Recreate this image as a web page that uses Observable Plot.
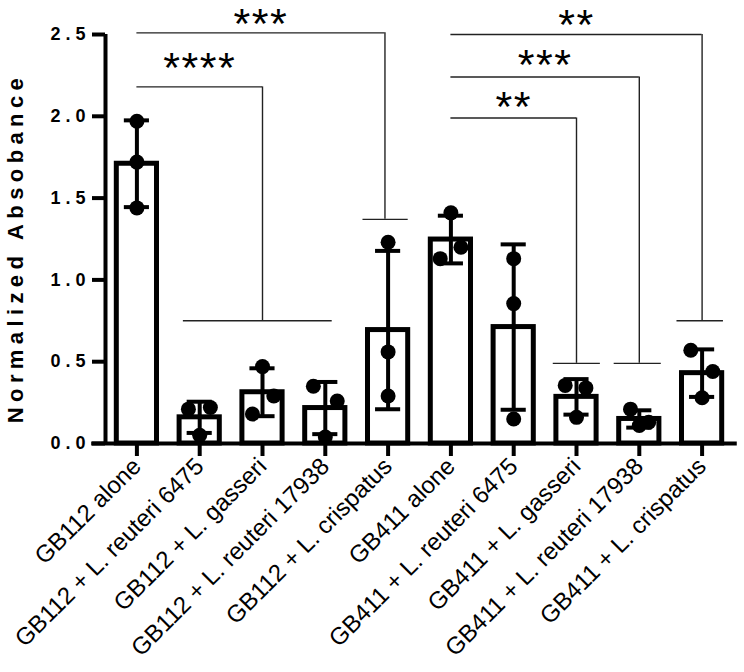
<!DOCTYPE html>
<html>
<head>
<meta charset="utf-8">
<script src="https://cdn.jsdelivr.net/npm/d3@7"></script>
<script src="https://cdn.jsdelivr.net/npm/@observablehq/plot@0.6"></script>
<style>
  body { margin: 0; background: #fff; }
  #chart svg { font-family: "Liberation Sans", Arial, sans-serif; }
</style>
</head>
<body>
<div id="chart"></div>
<script>
// ---- data ----
const categories = [
  "GB112 alone",
  "GB112 + L. reuteri 6475",
  "GB112 + L. gasseri",
  "GB112 + L. reuteri 17938",
  "GB112 + L. crispatus",
  "GB411 alone",
  "GB411 + L. reuteri 6475",
  "GB411 + L. gasseri",
  "GB411 + L. reuteri 17938",
  "GB411 + L. crispatus"
];
// three replicate values per condition
const replicates = [
  [1.97, 1.72, 1.44],
  [0.21, 0.22, 0.05],
  [0.47, 0.29, 0.18],
  [0.35, 0.26, 0.04],
  [1.23, 0.56, 0.29],
  [1.41, 1.20, 1.13],
  [1.13, 0.855, 0.15],
  [0.355, 0.34, 0.16],
  [0.21, 0.13, 0.11],
  [0.57, 0.44, 0.28]
];
// horizontal scatter of each replicate dot (in category units)
const jitter = [
  [0, 0, 0],
  [-0.18, 0.17, 0],
  [0, 0.18, -0.16],
  [-0.19, 0.19, 0],
  [0, 0, 0],
  [0, 0.16, -0.17],
  [0, 0, 0],
  [-0.18, 0.15, 0],
  [-0.14, 0.15, 0],
  [-0.18, 0.17, 0]
];
const yTicks = [0, 0.5, 1.0, 1.5, 2.0, 2.5];
const yTitle = "Normalized Absobance";
// significance brackets
const sigLabels = ["****", "***", "**", "***", "**"];
const sigFrom = [0, 0, 5, 5, 5];
const sigTo = [2, 3.95, 9, 8, 7];
const sigTop = [2.18, 2.51, 2.50, 2.24, 1.99];
const sigBottom = [0.75, 1.37, 0.75, 0.49, 0.49];
const sigCapFrom = [0.74, 3.6, 8.6, 7.6, 6.63];
const sigCapTo = [3.11, 4.32, 9.34, 8.35, 7.38];
const sigTextY = [2.33, 2.60, 2.595, 2.35, 2.09];

// ---- derived tables ----
const stats = replicates.map((r, i) => ({i, mean: d3.mean(r), sd: d3.deviation(r)}));
const points = replicates.flatMap((r, i) => r.map((v, j) => ({i, v, off: jitter[i][j]})));
const caps = stats.flatMap(s => [{i: s.i, y: s.mean + s.sd}, {i: s.i, y: s.mean - s.sd}]);
const brackets = sigLabels.map((label, k) => ({
  label, from: sigFrom[k], to: sigTo[k], top: sigTop[k], bottom: sigBottom[k],
  capFrom: sigCapFrom[k], capTo: sigCapTo[k], ty: sigTextY[k]
}));

const font = "Liberation Sans, Arial, sans-serif";
const chart = Plot.plot({
  width: 744,
  height: 672,
  marginLeft: 105,
  marginRight: 11,
  marginTop: 34,
  marginBottom: 229,
  style: {fontFamily: font, background: "white", overflow: "visible"},
  x: {type: "linear", domain: [-0.5, 9.5], axis: null},
  y: {domain: [0, 2.5], axis: null},
  marks: [
    // bracket lines
    Plot.ruleY(brackets, {y: "top", x1: "from", x2: "to", stroke: "#222", strokeWidth: 1.4}),
    Plot.ruleX(brackets, {x: "to", y1: "top", y2: "bottom", stroke: "#222", strokeWidth: 1.4}),
    Plot.ruleY(brackets, {y: "bottom", x1: "capFrom", x2: "capTo", stroke: "#222", strokeWidth: 1.4}),
    Plot.text(brackets, {x: d => (d.from + d.to) / 2, y: "ty", text: "label", fontSize: 43, dy: 6, fill: "black", fontFamily: font}),
    // bars
    Plot.rectY(stats, {x1: d => d.i - 0.32, x2: d => d.i + 0.32, y1: 0, y2: "mean", fill: "white", stroke: "black", strokeWidth: 5}),
    // error bars
    Plot.ruleX(stats, {x: "i", y1: d => d.mean - d.sd, y2: d => d.mean + d.sd, stroke: "black", strokeWidth: 4}),
    Plot.ruleY(caps, {y: "y", x1: d => d.i - 0.2, x2: d => d.i + 0.2, stroke: "black", strokeWidth: 4}),
    // replicate dots
    Plot.dot(points, {x: d => d.i + d.off, y: "v", r: 7.5, fill: "black", stroke: null}),
    // axes
    Plot.ruleY([0], {x1: -0.72, x2: 9.56, stroke: "black", strokeWidth: 4}),
    Plot.ruleX([-0.5], {y1: 0, y2: 2.5, stroke: "black", strokeWidth: 4}),
    Plot.axisY(yTicks, {tickSize: 13, tickPadding: 2, strokeWidth: 4, tickFormat: d => d.toFixed(1), fill: "black", label: null}),
    Plot.axisX(d3.range(categories.length), {tickSize: 13, strokeWidth: 4, tickRotate: -45, tickFormat: i => categories[i], fill: "black", label: null}),
    Plot.text([yTitle], {frameAnchor: "left", textAnchor: "middle", rotate: -90, dx: -90, dy: 9, fontSize: 22, fontWeight: "bold", fill: "black"})
  ]
});
const svg = d3.select(chart);
svg.selectAll('g[aria-label="y-axis tick label"] text')
  .style("font-size", "18px").style("font-weight", "bold").style("letter-spacing", "5px");
svg.selectAll('g[aria-label="x-axis tick label"] text')
  .style("font-size", "24px");
svg.selectAll('g[aria-label="text"] text').filter(function () { return /^\*+$/.test(this.textContent); })
  .style("letter-spacing", "1.5px");
svg.selectAll("text").filter(function () { return this.textContent === yTitle; })
  .style("letter-spacing", "5.4px");
document.getElementById("chart").appendChild(chart);
</script>
</body>
</html>
